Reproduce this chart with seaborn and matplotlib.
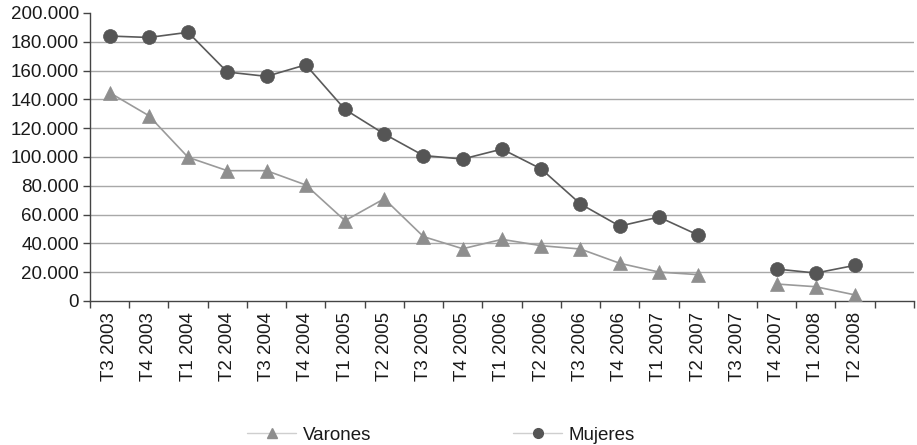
import numpy as np
import pandas as pd
import matplotlib
matplotlib.use("Agg")
import matplotlib.pyplot as plt
from matplotlib.lines import Line2D
from matplotlib.ticker import FuncFormatter, FixedLocator
import seaborn as sns

# Quarterly series
periodos = ["T3 2003", "T4 2003", "T1 2004", "T2 2004", "T3 2004", "T4 2004",
            "T1 2005", "T2 2005", "T3 2005", "T4 2005", "T1 2006", "T2 2006",
            "T3 2006", "T4 2006", "T1 2007", "T2 2007", "T3 2007", "T4 2007",
            "T1 2008", "T2 2008"]
varones = [144700, 128700, 99800, 90500, 90500, 80600, 55800, 71000, 44700,
           36300, 42800, 38400, 36100, 26200, 20100, 18300, None, 11800,
           9900, 4200]
mujeres = [184000, 183000, 186600, 159000, 156000, 164000, 133000, 116000,
           101000, 98600, 105500, 91700, 67400, 52000, 58300, 45800, None,
           22200, 19400, 24800]
series = ["Varones", "Mujeres"]
ytick_vals = [0, 20000, 40000, 60000, 80000, 100000, 120000, 140000,
              160000, 180000, 200000]

sns.set_theme(style="white")
plt.rcParams["font.family"] = ["Liberation Sans", "DejaVu Sans"]

frames = []
for name, vals in zip(series, [varones, mujeres]):
    v = pd.Series(vals, dtype="float")
    frames.append(pd.DataFrame({
        "pos": np.arange(len(periodos)),
        "valor": v,
        "serie": name,
        "tramo": v.isna().cumsum(),
    }))
df = pd.concat(frames).dropna(subset=["valor"])

colores = {"Varones": "#8e8e8e", "Mujeres": "#555555"}
lineas = {"Varones": "#9a9a9a", "Mujeres": "#5a5a5a"}
marcas = {"Varones": "^", "Mujeres": "o"}
tam = {"Varones": 10, "Mujeres": 10}

fig = plt.figure(figsize=(9.17, 4.45), dpi=100)
ax = fig.add_axes([0.0981, 0.3236, 0.8986, 0.6472])

for name in series:
    sub = df[df["serie"] == name]
    sns.lineplot(data=sub, x="pos", y="valor", units="tramo", estimator=None,
                 color=lineas[name], linewidth=1.2, marker=marcas[name],
                 markersize=tam[name], markerfacecolor=colores[name],
                 markeredgecolor=colores[name], markeredgewidth=0.5,
                 legend=False, ax=ax, zorder=3)

n_slots = len(periodos) + 1
ax.set_xlim(-0.5, n_slots - 0.5)
ax.set_ylim(0, 200000)
ax.set_xlabel("")
ax.set_ylabel("")

ax.yaxis.set_major_locator(FixedLocator(ytick_vals))
ax.yaxis.set_major_formatter(FuncFormatter(lambda v, p: f"{v:,.0f}".replace(",", ".")))
ax.set_xticks(np.arange(len(periodos)))
ax.set_xticklabels(periodos, rotation=90)
ax.set_xticks(np.arange(n_slots + 1) - 0.5, minor=True)

ax.tick_params(axis="x", which="major", length=0, pad=8, labelsize=13.5,
               labelcolor="#1a1a1a")
ax.tick_params(axis="x", which="minor", length=5, width=1, color="#444444",
               direction="out", bottom=True)
ax.tick_params(axis="y", which="major", length=5, width=1, color="#444444",
               direction="out", left=True, labelsize=13.5, labelcolor="#1a1a1a",
               pad=3)

for g in ytick_vals[1:-1]:
    ax.axhline(g, color="#a8a8a8", linewidth=1.0, zorder=1)

for s in ["top", "right"]:
    ax.spines[s].set_visible(False)
for s in ["left", "bottom"]:
    ax.spines[s].set_color("#444444")
    ax.spines[s].set_linewidth(1.0)

handles = [Line2D([0], [0], color="#cfcfcf", linewidth=1.0, marker=marcas[n],
                  markersize=7, markerfacecolor=colores[n],
                  markeredgecolor=colores[n]) for n in series]
fig.legend(handles, series, loc="center", bbox_to_anchor=(0.481, 0.022),
           ncol=2, frameon=False, fontsize=13.5, handlelength=2.6,
           handletextpad=0.35, columnspacing=7.6, labelcolor="#1a1a1a")

fig.savefig("out.png", dpi=100)
